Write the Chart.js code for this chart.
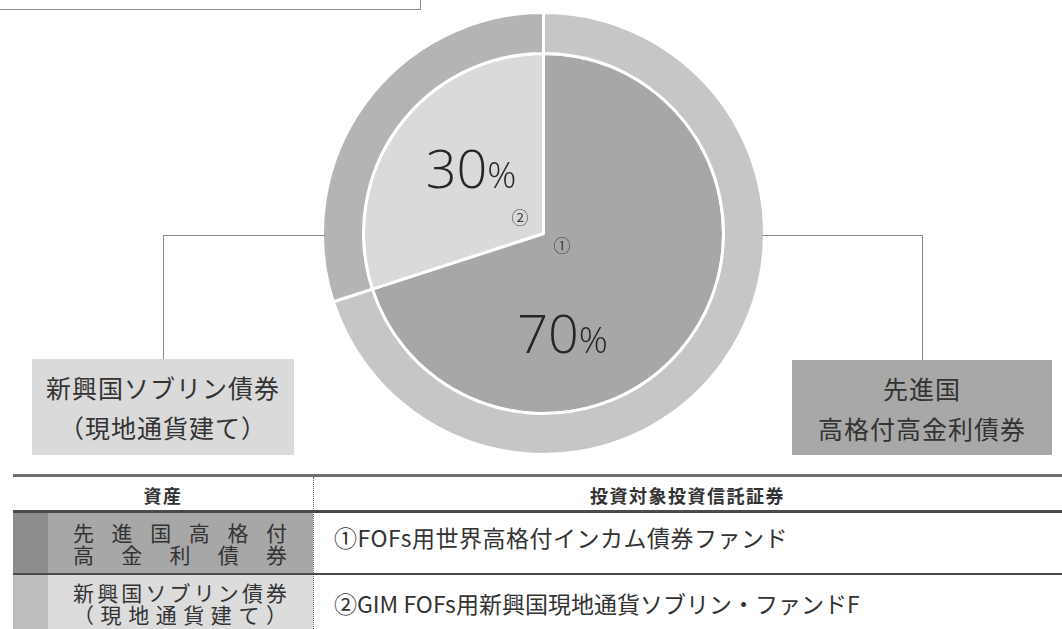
<!DOCTYPE html>
<html lang="ja">
<head>
<meta charset="utf-8">
<script src="https://cdn.jsdelivr.net/npm/chart.js@4"></script>
<style>
  html, body { margin: 0; padding: 0; background: #fff; }
  body { width: 1062px; height: 629px; position: relative; overflow: hidden;
         font-family: "Noto Sans CJK JP", "Noto Sans", sans-serif; color: #333; }
  .abs { position: absolute; }
  #chartWrap { position: absolute; left: 318px; top: 8px; width: 451px; height: 451px; }
  .hline { position: absolute; height: 0; border-top: 1.5px solid #8a8a8a; }
  .vline { position: absolute; width: 0; border-left: 1.5px solid #8a8a8a; }
  .box { position: absolute; display: flex; flex-direction: column; justify-content: center;
         align-items: center; font-size: 25px; line-height: 40px; color: #333; letter-spacing: 1px; }
  .just { display: flex; justify-content: space-between; }
  .cellTxt { position: absolute; left: 73px; width: 214px; font-size: 21px; line-height: 22px; color: #333; }
  .fund { position: absolute; left: 334px; font-size: 23px; color: #333; white-space: nowrap; }
  .hdr { position: absolute; font-size: 18px; font-weight: bold; color: #333; text-align: center; letter-spacing: 1.5px; }
</style>
</head>
<body>
<!-- partial frame at the top-left -->
<div class="abs" style="left:-2px; top:-2px; width:422px; height:11px; border-right:1.5px solid #8a8a8a; border-bottom:1.5px solid #8a8a8a;"></div>

<div id="chartWrap"><canvas id="c" width="451" height="451"></canvas></div>

<!-- connectors -->
<div class="hline" style="left:163px; top:235px; width:162px;"></div>
<div class="vline" style="left:163px; top:235px; height:124px;"></div>
<div class="hline" style="left:762px; top:235px; width:161px;"></div>
<div class="vline" style="left:922px; top:235px; height:125px;"></div>

<!-- label boxes -->
<div id="boxLeft" class="box" style="left:32px; top:359px; width:262px; height:96px; background:#dadada;"></div>
<div id="boxRight" class="box" style="left:792px; top:360px; width:260px; height:95px; background:#a8a8a8;"></div>

<!-- table -->
<div class="abs" style="left:13px; top:474px; width:1049px; height:3px; background:#6e6e6e;"></div>
<div id="hdr0" class="hdr" style="left:13px; top:482px; width:300px;"></div>
<div id="hdr1" class="hdr" style="left:313px; top:482px; width:749px;"></div>
<div class="abs" style="left:313px; top:477px; width:0; height:152px; border-left:1px dotted #666;"></div>

<div class="abs" style="left:13px; top:510px; width:1049px; height:3px; background:#4a4a4a;"></div>
<div class="abs" style="left:13px; top:513px; width:35px; height:60px; background:#8c8c8c;"></div>
<div class="abs" style="left:48px; top:513px; width:265px; height:60px; background:#a7a7a7;"></div>
<div class="abs" style="left:13px; top:573px; width:1049px; height:2px; background:#4a4a4a;"></div>
<div class="abs" style="left:13px; top:575px; width:35px; height:60px; background:#bebebe;"></div>
<div class="abs" style="left:48px; top:575px; width:265px; height:60px; background:#dcdcdc;"></div>

<div id="cell0" class="cellTxt" style="top:521px;"></div>
<div id="cell1" class="cellTxt" style="top:581px;"></div>
<div id="fund0" class="fund" style="top:520px; letter-spacing:0.5px;"></div>
<div id="fund1" class="fund" style="top:586px; letter-spacing:0px;"></div>

<script>
// ---- data ----
const categories = ['先進国高格付高金利債券', '新興国ソブリン債券（現地通貨建て）'];
const shares = [70, 30];
const markers = ['①', '②'];
const boxLines = [['先進国', '高格付高金利債券'], ['新興国ソブリン債券', '（現地通貨建て）']];
const tableHeaders = ['資産', '投資対象投資信託証券'];
const assetCellLines = [['先進国高格付', '高金利債券'], ['新興国ソブリン債券', '（現地通貨建て）']];
const fundNames = ['①FOFs用世界高格付インカム債券ファンド', '②GIM FOFs用新興国現地通貨ソブリン・ファンドF'];

// ---- text blocks ----
function fillBox(id, lines) {
  const el = document.getElementById(id);
  lines.forEach(t => { const d = document.createElement('div'); d.textContent = t; el.appendChild(d); });
}
fillBox('boxRight', boxLines[0]);
fillBox('boxLeft', boxLines[1]);
document.getElementById('hdr0').textContent = tableHeaders[0];
document.getElementById('hdr1').textContent = tableHeaders[1];
function fillJust(id, lines) {
  const el = document.getElementById(id);
  lines.forEach(t => {
    const row = document.createElement('div'); row.className = 'just';
    Array.from(t).forEach(ch => { const s = document.createElement('span'); s.textContent = ch; row.appendChild(s); });
    el.appendChild(row);
  });
}
fillJust('cell0', assetCellLines[0]);
fillJust('cell1', assetCellLines[1]);
document.getElementById('fund0').textContent = fundNames[0];
document.getElementById('fund1').textContent = fundNames[1];

// ---- chart ----
const innerColors = ['#a7a7a7', '#dadada'];
const outerColors = ['#c6c6c6', '#b4b4b4'];

const labelPlugin = {
  id: 'pieLabels',
  afterDatasetsDraw(chart) {
    const ctx = chart.ctx;
    const arc = chart.getDatasetMeta(1).data[0];
    const cx = arc.x, cy = arc.y;
    // [center x offset, baseline offset] for each percentage label
    const pctPos = [[19, 119.5], [-72.5, -45.5]];
    const markPos = [[18.5, 12.5], [-23.5, -15.5]];
    ctx.save();
    shares.forEach((v, i) => {
      const num = String(v);
      ctx.fillStyle = '#262626';
      ctx.font = '300 54px "Open Sans", "Liberation Sans", sans-serif';
      const w1 = ctx.measureText(num).width;
      ctx.font = '300 36px "Open Sans", "Liberation Sans", sans-serif';
      const w2 = ctx.measureText('%').width;
      const x0 = cx + pctPos[i][0] - (w1 + w2) / 2;
      const y0 = cy + pctPos[i][1];
      ctx.textAlign = 'left'; ctx.textBaseline = 'alphabetic';
      ctx.font = '300 54px "Open Sans", "Liberation Sans", sans-serif';
      ctx.fillText(num, x0, y0);
      ctx.font = '300 36px "Open Sans", "Liberation Sans", sans-serif';
      ctx.fillText('%', x0 + w1, y0);
      ctx.font = '17px "Noto Sans CJK JP", sans-serif';
      ctx.textAlign = 'center'; ctx.textBaseline = 'middle';
      ctx.fillStyle = '#444';
      ctx.fillText(markers[i], cx + markPos[i][0], cy + markPos[i][1]);
    });
    ctx.restore();
  }
};

new Chart(document.getElementById('c'), {
  type: 'pie',
  data: {
    labels: categories,
    datasets: [
      { data: shares, backgroundColor: outerColors, borderColor: '#ffffff', borderWidth: 3, weight: 41 },
      { data: shares, backgroundColor: innerColors, borderColor: '#ffffff', borderWidth: 3, weight: 180 }
    ]
  },
  options: {
    responsive: false,
    animation: false,
    radius: 221,
    rotation: 0,
    layout: { padding: 0 },
    plugins: { legend: { display: false }, tooltip: { enabled: false } }
  },
  plugins: [labelPlugin]
});
</script>
</body>
</html>
